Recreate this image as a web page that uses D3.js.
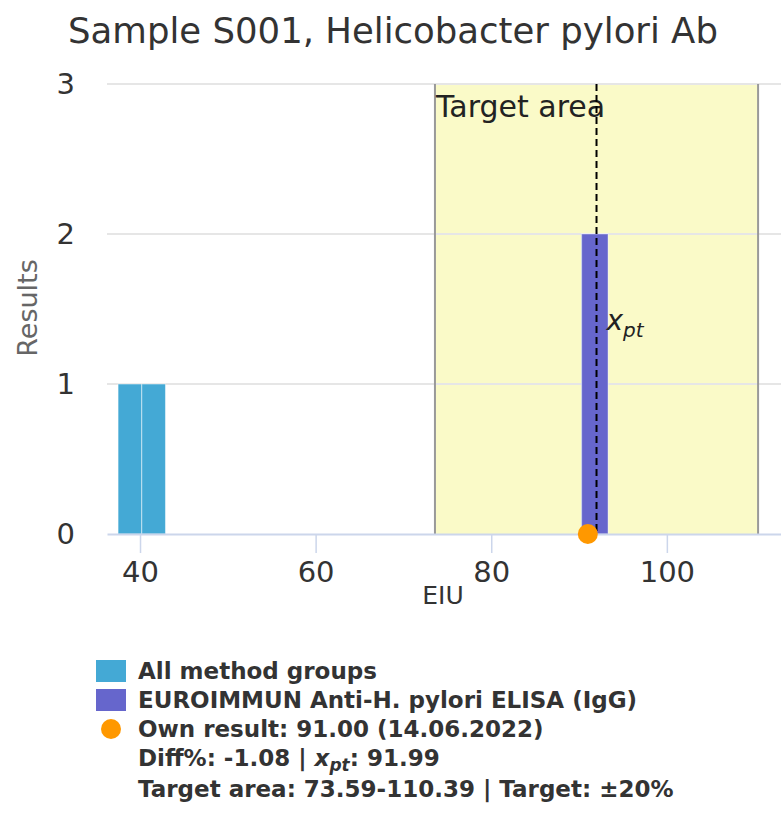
<!DOCTYPE html>
<html>
<head>
<meta charset="utf-8">
<script src="https://cdn.jsdelivr.net/npm/d3@7"></script>
<style>
body { margin: 0; background: #fff; }
text { font-family: "DejaVu Sans", sans-serif; }
</style>
</head>
<body>
<svg></svg>
<script>
// Chart values
const title = "Sample S001, Helicobacter pylori Ab";
const xTicks = [40, 60, 80, 100];
const yTicks = [0, 1, 2, 3];
const xDomain = [36.24, 113.0];
const yDomain = [0, 3];

// histogram bins, all method groups
const allBinStart = [37.5, 40.2, 90.3];
const allBinEnd = [40.2, 42.9, 93.3];
const allCounts = [1, 1, 2];

// histogram bins, own method group
const groupBinStart = [90.3];
const groupBinEnd = [93.3];
const groupCounts = [2];

const ownResult = 91.00;
const xpt = 91.99;
const targetLow = 73.59;
const targetHigh = 110.39;

const legendItems = [
  { label: "All method groups", kind: "rect", color: "#44a9d5" },
  { label: "EUROIMMUN Anti-H. pylori ELISA (IgG)", kind: "rect", color: "#6666cc" },
  { label: "Own result: 91.00 (14.06.2022)", kind: "dot", color: "#ff9800" }
];

// Set up SVG dimensions
const width = 781;
const height = 814;
const plotLeft = 107, plotRight = 781, plotTop = 84, plotBottom = 534;

const svg = d3.select("svg")
  .attr("width", width)
  .attr("height", height);

const x = d3.scaleLinear().domain(xDomain).range([plotLeft, plotRight]);
const y = d3.scaleLinear().domain(yDomain).range([plotBottom, plotTop]);

// Title
svg.append("text")
  .attr("x", 393)
  .attr("y", 43)
  .attr("text-anchor", "middle")
  .attr("fill", "#333")
  .attr("font-size", 35.5)
  .text(title);

// Target area band
svg.append("rect")
  .attr("x", x(targetLow))
  .attr("y", y(3))
  .attr("width", x(targetHigh) - x(targetLow))
  .attr("height", y(0) - y(3))
  .attr("fill", "#fafac8");

// Grid lines
svg.append("g")
  .selectAll("line")
  .data(yTicks.filter(d => d > 0))
  .enter()
  .append("line")
  .attr("x1", plotLeft).attr("x2", plotRight)
  .attr("y1", d => y(d)).attr("y2", d => y(d))
  .attr("stroke", "#e6e6e6")
  .attr("stroke-width", 2);

svg.append("g")
  .selectAll("line")
  .data([targetLow, targetHigh])
  .enter()
  .append("line")
  .attr("x1", d => x(d)).attr("x2", d => x(d))
  .attr("y1", y(3)).attr("y2", y(0))
  .attr("stroke", "#999")
  .attr("stroke-width", 2);

svg.append("text")
  .attr("x", x(targetLow) + 1)
  .attr("y", 117)
  .attr("fill", "#222")
  .attr("font-size", 30)
  .text("Target area");

// Bars: all method groups
svg.append("g")
  .selectAll("rect")
  .data(allCounts)
  .enter()
  .append("rect")
  .attr("x", (d, i) => x(allBinStart[i]))
  .attr("width", (d, i) => x(allBinEnd[i]) - x(allBinStart[i]))
  .attr("y", d => y(d))
  .attr("height", d => y(0) - y(d))
  .attr("fill", "#44a9d5")
  .attr("stroke", "rgba(255,255,255,0.5)")
  .attr("stroke-width", 1);

// Bars: own method group
svg.append("g")
  .selectAll("rect")
  .data(groupCounts)
  .enter()
  .append("rect")
  .attr("x", (d, i) => x(groupBinStart[i]))
  .attr("width", (d, i) => x(groupBinEnd[i]) - x(groupBinStart[i]))
  .attr("y", d => y(d))
  .attr("height", d => y(0) - y(d))
  .attr("fill", "#6666cc")
  .attr("stroke", "rgba(255,255,255,0.4)")
  .attr("stroke-width", 1);

// x_pt dashed line
svg.append("line")
  .attr("x1", x(xpt)).attr("x2", x(xpt))
  .attr("y1", y(3)).attr("y2", y(0))
  .attr("stroke", "#000")
  .attr("stroke-width", 2)
  .attr("stroke-dasharray", "7,4");

const xptLabel = svg.append("text")
  .attr("x", x(xpt) + 10)
  .attr("y", 330)
  .attr("fill", "#222")
  .attr("font-size", 28)
  .attr("font-style", "italic");
xptLabel.append("tspan").text("x");
xptLabel.append("tspan").attr("font-size", 20).attr("dy", 7).text("pt");

// x axis
const xAxis = svg.append("g")
  .attr("transform", `translate(0,${plotBottom})`)
  .call(d3.axisBottom(x).tickValues(xTicks).tickSize(19).tickSizeOuter(0).tickPadding(8));
xAxis.select(".domain").attr("stroke", "#ccd6eb").attr("stroke-width", 2);
xAxis.selectAll(".tick line").attr("stroke", "#ccd6eb").attr("stroke-width", 1.5);
xAxis.selectAll(".tick text")
  .attr("fill", "#333")
  .attr("font-size", 29)
  .attr("font-family", "DejaVu Sans");

svg.append("text")
  .attr("x", 443)
  .attr("y", 604)
  .attr("text-anchor", "middle")
  .attr("fill", "#333")
  .attr("font-size", 25)
  .text("EIU");

// y axis labels
svg.append("g")
  .selectAll("text")
  .data(yTicks)
  .enter()
  .append("text")
  .attr("x", 75)
  .attr("y", d => y(d) + 10)
  .attr("text-anchor", "end")
  .attr("fill", "#333")
  .attr("font-size", 29)
  .text(d => d);

svg.append("text")
  .attr("transform", "translate(37,308) rotate(-90)")
  .attr("text-anchor", "middle")
  .attr("fill", "#666")
  .attr("font-size", 27)
  .text("Results");

// Own result point
svg.append("circle")
  .attr("cx", x(ownResult))
  .attr("cy", y(0))
  .attr("r", 10)
  .attr("fill", "#ff9800");

// Legend
const legend = svg.append("g").attr("font-weight", "bold").attr("fill", "#333");
const rowY = [671, 700, 729];
legendItems.forEach((item, i) => {
  if (item.kind === "rect") {
    legend.append("rect")
      .attr("x", 96).attr("y", rowY[i] - 11)
      .attr("width", 30).attr("height", 22)
      .attr("fill", item.color);
  } else {
    legend.append("circle")
      .attr("cx", 111).attr("cy", rowY[i])
      .attr("r", 10)
      .attr("fill", item.color);
  }
  legend.append("text")
    .attr("x", 138).attr("y", rowY[i] + 8)
    .attr("font-size", 23)
    .text(item.label);
});

const diffLine = legend.append("text")
  .attr("x", 138).attr("y", 766)
  .attr("font-size", 23);
diffLine.append("tspan").text("Diff%: -1.08 | ");
diffLine.append("tspan").attr("font-style", "italic").text("x");
diffLine.append("tspan").attr("font-style", "italic").attr("font-size", 17).attr("dy", 5).text("pt");
diffLine.append("tspan").attr("dy", -5).text(": 91.99");

legend.append("text")
  .attr("x", 138).attr("y", 797)
  .attr("font-size", 23)
  .text("Target area: 73.59-110.39 | Target: ±20%");
</script>
</body>
</html>
